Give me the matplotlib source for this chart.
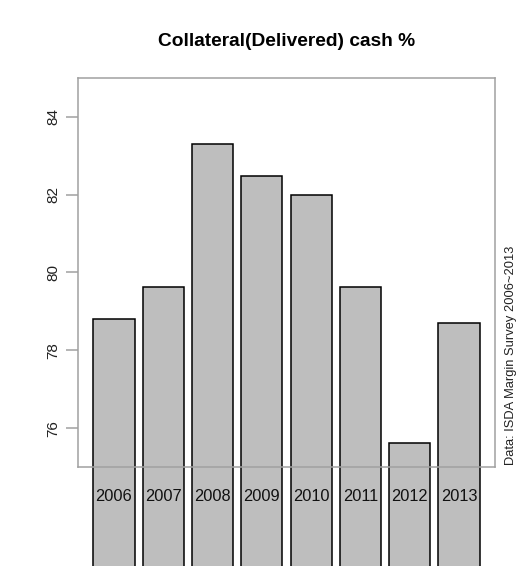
import matplotlib
matplotlib.use("Agg")
import matplotlib.pyplot as plt
from matplotlib.patches import Rectangle

years = ["2006", "2007", "2008", "2009", "2010", "2011", "2012", "2013"]
cash_pct = [78.8, 79.62, 83.3, 82.48, 82.0, 79.62, 75.62, 78.7]
yticks = [76, 78, 80, 82, 84]

W, H = 529, 566
fig = plt.figure(figsize=(W / 100, H / 100), dpi=100)
plt.rcParams['font.family'] = ['Liberation Sans', 'DejaVu Sans']

# plot region in pixels: left 78, right 495, top 78, bottom 467
L, R, T, B = 78, 495, 78, 467
ax = fig.add_axes([L / W, 1 - B / H, (R - L) / W, (B - T) / H])
ax.set_xlim(-0.176, 9.976)
ax.set_ylim(75, 85)

width, space = 1.0, 0.2
for i, (yr, v) in enumerate(zip(years, cash_pct)):
    x0 = space + i * (width + space)
    rect = Rectangle((x0, 0), width, v, facecolor="#bebebe", edgecolor="black",
                     linewidth=1.1, clip_on=False, zorder=3)
    ax.add_patch(rect)
    ax.text(x0 + width / 2, 74.23, yr, ha="center", va="center", fontsize=11.8,
            color="#111111", clip_on=False, zorder=4)

for s in ax.spines.values():
    s.set_color("#a0a0a0")
    s.set_linewidth(1.1)
    s.set_zorder(5)
ax.set_xticks([])
ax.set_yticks(yticks)
ax.set_yticklabels([str(t) for t in yticks], rotation=90, va="center", fontsize=11, color="#222222")
ax.tick_params(axis="y", length=8.7, width=1.1, color="#a0a0a0", pad=4)
ax.set_facecolor("white")

fig.text(286.5 / W, 1 - 41 / H, "Collateral(Delivered) cash %", ha="center", va="center",
         fontsize=13.8, fontweight="bold")
fig.text(511 / W, 1 - 465 / H, "Data: ISDA Margin Survey 2006~2013", rotation=90,
         ha="center", va="bottom", fontsize=9.3, color="#222222")

fig.savefig("out.png", dpi=100)
